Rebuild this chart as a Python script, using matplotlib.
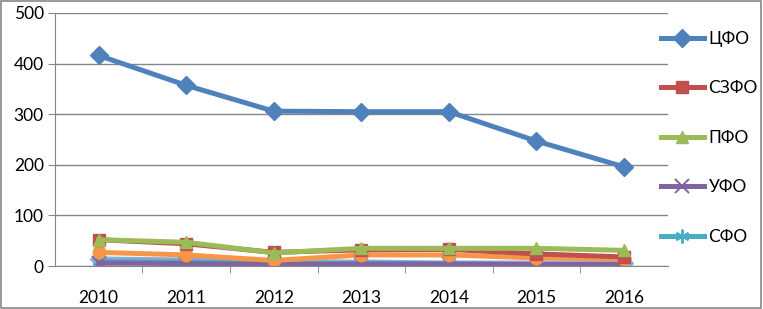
import numpy as np
import matplotlib
matplotlib.use("Agg")
import matplotlib.pyplot as plt
from matplotlib.patches import Rectangle

plt.rcParams['font.family'] = ['Lato', 'DejaVu Sans']

years = ['2010', '2011', '2012', '2013', '2014', '2015', '2016']

cfo = [416, 357, 306, 305, 305, 247, 196]
szfo = [52, 44, 27, 32, 33, 24, 18]
pfo = [52, 47, 26, 35, 35, 35, 31]
ufo = [6, 5, 3, 4, 4, 3, 3]
sfo = [9, 8, 5, 5, 4, 3, 3]
yufo = [27, 22, 11, 22, 22, 16, 14]
skfo = [14, 12, 8, 8, 6, 6, 6]
dfo = [2, 2, 2, 2, 2, 2, 2]
kfo = [np.nan, np.nan, np.nan, np.nan, 4, 3, 3]

# (values, name, colour, marker, in legend)
series = [
    (kfo, 'КФО', '#C3D69B', '^', False),
    (dfo, 'ДФО', '#E6B9B8', 's', False),
    (skfo, 'СКФО', '#8EA9DB', 'D', False),
    (sfo, 'СФО', '#4BACC6', (6, 2, 0), True),
    (ufo, 'УФО', '#8064A2', 'x', True),
    (yufo, 'ЮФО', '#F79646', 'o', False),
    (szfo, 'СЗФО', '#C0504D', 's', True),
    (pfo, 'ПФО', '#9BBB59', '^', True),
    (cfo, 'ЦФО', '#4F81BD', 'D', True),
]

fig = plt.figure(figsize=(7.63, 3.09), dpi=100)
ax = fig.add_axes([0.072, 0.139, 0.803, 0.819])

x = np.arange(len(years))
handles = {}
for vals, name, color, marker, show in series:
    thin = marker in ('x', (6, 2, 0))
    line, = ax.plot(x, vals, color=color, lw=3.6, marker=marker,
                    ms=10 if thin else 9, markeredgecolor=color,
                    markeredgewidth=1.4 if thin else 1,
                    solid_joinstyle='round')
    if show:
        handles[name] = line

ax.set_xlim(-0.5, len(years) - 0.5)
ax.set_ylim(0, 500)
ax.set_yticks(range(0, 501, 100))
ax.set_xticks(x)
ax.set_xticklabels(years)
ax.set_xticks(np.arange(0.5, len(years) - 0.5, 1), minor=True)
ax.tick_params(axis='x', which='major', length=0, pad=17, labelsize=12.5)
ax.tick_params(axis='x', which='minor', length=5, color='#868686', direction='out')
ax.tick_params(axis='y', length=5, color='#868686', labelsize=12.5, pad=3)
ax.yaxis.grid(True, color='#868686', lw=1)
ax.set_axisbelow(True)
for s in ['top', 'right']:
    ax.spines[s].set_visible(False)
for s in ['left', 'bottom']:
    ax.spines[s].set_color('#868686')

order = ['ЦФО', 'СЗФО', 'ПФО', 'УФО', 'СФО']
leg = fig.legend([handles[n] for n in order], order, loc='upper left',
                 bbox_to_anchor=(0.866, 0.90), frameon=False, fontsize=12.5,
                 handlelength=2.5, handletextpad=0.25, labelspacing=1.93,
                 borderaxespad=0, borderpad=0)

fig.patches.append(Rectangle((0.001, 0.002), 0.997, 0.995, transform=fig.transFigure,
                             fill=False, edgecolor='#868686', lw=1.2))

fig.savefig('out.png', dpi=100)
